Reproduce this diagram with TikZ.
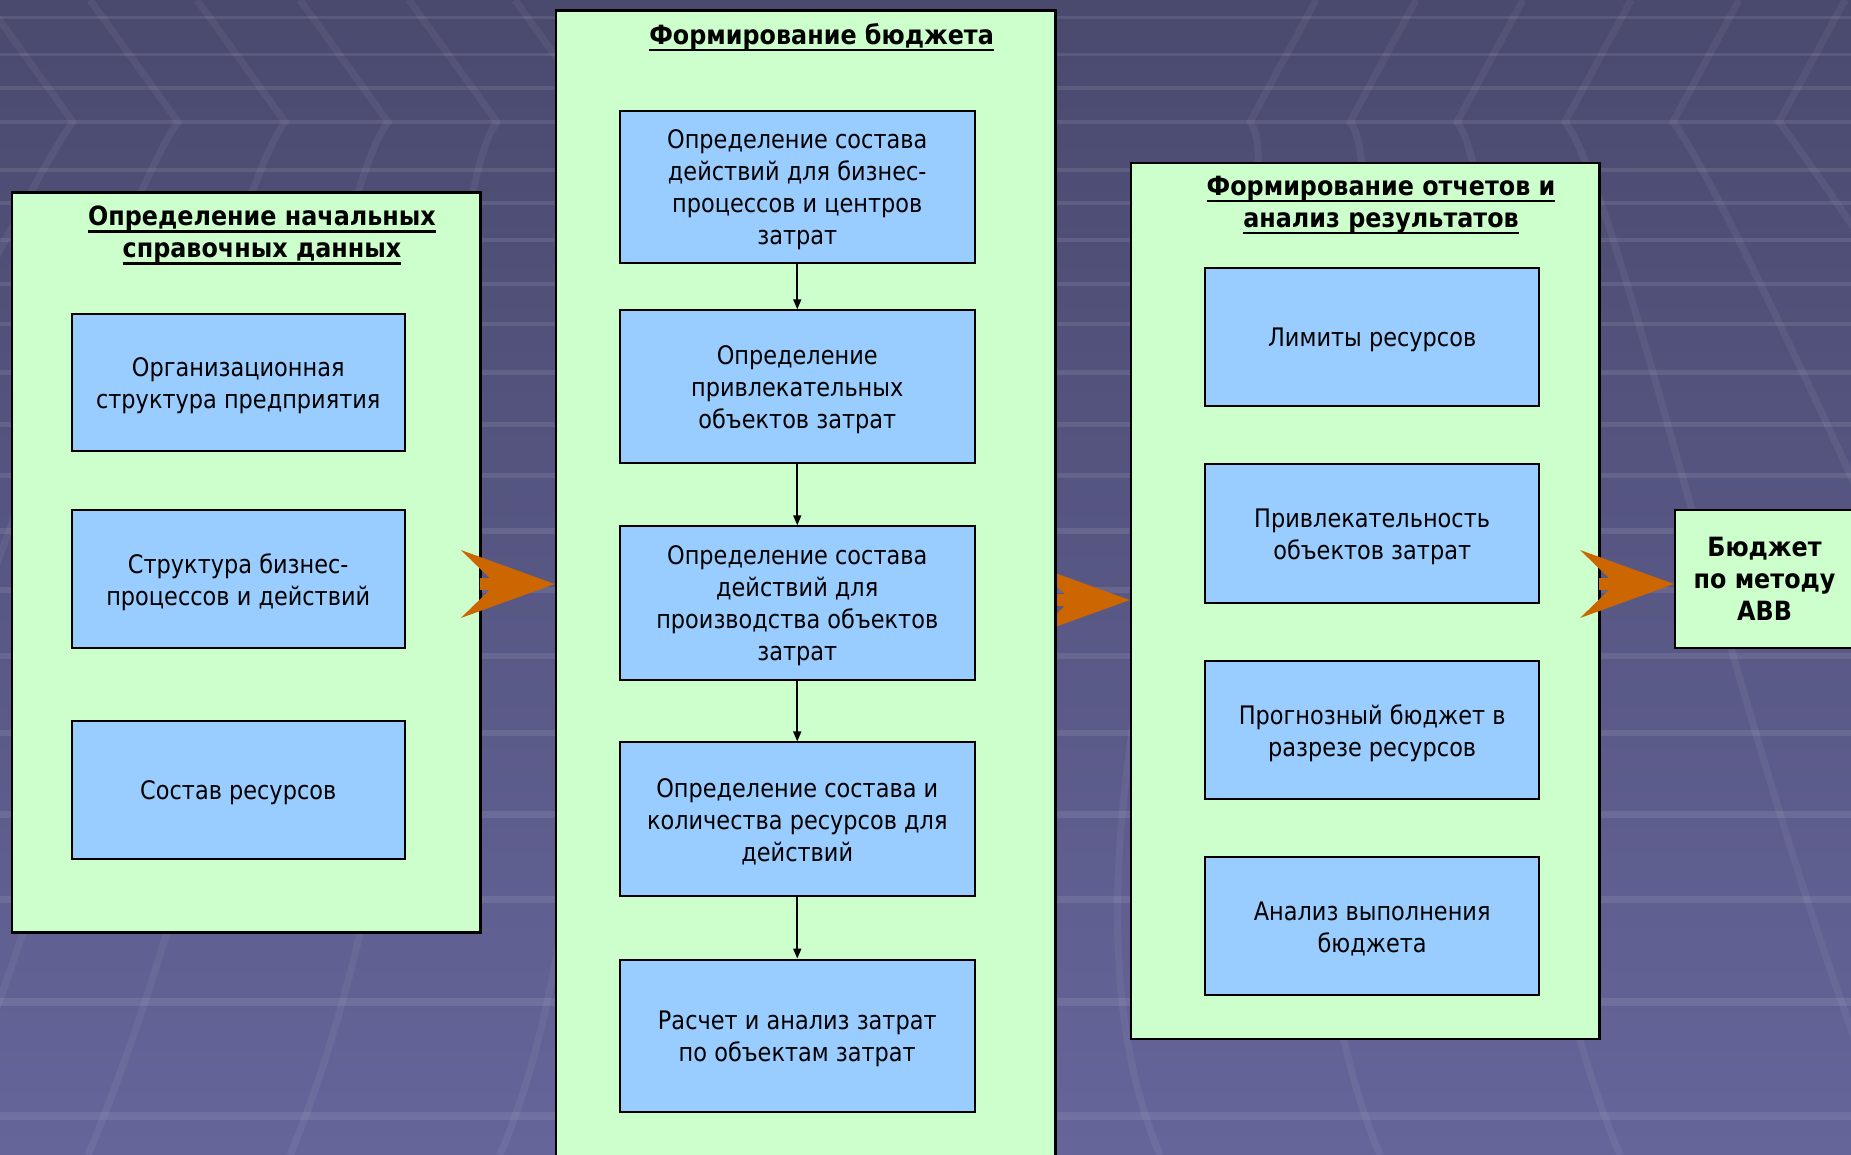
\documentclass[tikz,border=0pt]{standalone}
\usepackage{fontspec}
\setmainfont{DejaVu Sans}[FakeStretch=0.88, BoldFeatures={FakeStretch=0.9}]
\newcommand\myul[1]{\setbox0\hbox{#1}\rlap{\rule[-7pt]{\wd0}{2.4pt}}\box0}
\usetikzlibrary{calc,arrows.meta}
\definecolor{bgtop}{HTML}{4A496E}
\definecolor{bgbot}{HTML}{65659A}
\definecolor{panelg}{HTML}{CCFFCC}
\definecolor{boxb}{HTML}{99CCFF}
\definecolor{dartc}{HTML}{CC6600}
\tikzset{
  panel/.style={draw=black, line width=2.5pt, fill=panelg, anchor=north west, inner sep=0pt},
  box/.style={draw=black, line width=2pt, fill=boxb, anchor=north west, inner sep=0pt},
  btxt/.style={align=center, inner sep=0pt, font=\fontsize{25.5}{32}\selectfont},
  ttl/.style={align=center, font=\bfseries\fontsize{26.5}{32}\selectfont, inner sep=0pt},
  bgline/.style={white, opacity=0.055},
  link/.style={line width=1.6pt, -{Triangle[length=10pt,width=8pt]}},
}
\newcommand\dartshape{%
  (-94,-34) -- (0,0) -- (-94,34) -- (-65.2,6) -- (-75,6) -- (-75,-6) -- (-65.2,-6) -- cycle}
\begin{document}
\begin{tikzpicture}[x=1pt,y=-1pt]
\useasboundingbox (0,0) rectangle (1851,1155);
\clip (0,0) rectangle (1851,1155);
% background
\fill[top color=bgtop, bottom color=bgbot] (0,0) rectangle (1851,1155);
\foreach \yy/\w in {18/3,55/3,88/3.5,122/3.5,170/4,203/4,240/4,284/4.5,324/4.5,372/5,424/5,475/5,531/5.5,590/6,656/6,733/6.5,814/7,899/7,1002/8,1116/8}
  \draw[white, opacity=0.09, line width=\w pt] (0,\yy) -- (1851,\yy);
\foreach \a/\b in {73/-420,178/-230,285/-60,388/88,497/290,603/500}
  \draw[bgline, line width=7pt] ({\a-88},0) -- (\a,122) .. controls ({\a-60},200) and ({\b+150},800) .. (\b,1155);
\foreach \a/\b in {1250/1160,1350/1380,1457/1620,1565/1900,1673/2150,1779/2400}
  \draw[bgline, line width=7pt] ({\a+66},0) -- (\a,122) .. controls ({\a+60},200) and ({\b-150},800) .. (\b,1155);
% panels
\node[panel, minimum width=468.7, minimum height=740.2] (lp) at (10.6,191.2) {};
\node[panel, minimum width=468.6, minimum height=876] (rp) at (1129.8,161.7) {};
\coordinate (ya) at (0,584);
\coordinate (yb) at (0,600);
\fill[dartc, shift={(rp.west |- yb)}] \dartshape;
\node[panel, minimum width=499.4, minimum height=1200] (mp) at (554.8,9.4) {};
% titles
\node[ttl] (lt) at (262,235.5) {\myul{Определение начальных}\\\myul{справочных данных}};
\node[ttl] (mt) at (821.6,37.5) {\myul{Формирование бюджета}};
\node[ttl] (rt) at (1381,205) {\myul{Формирование отчетов и}\\\myul{анализ результатов}};
% left boxes
\node[box, minimum width=332.9, minimum height=137] (l1) at (70.8,312.8) {};
\node[box, minimum width=332.9, minimum height=138] (l2) at (70.8,508.8) {};
\node[box, minimum width=332.9, minimum height=138] (l3) at (70.8,720.1) {};
\node[btxt] (l1t) at ([yshift=-3pt]l1.center) {Организационная\\структура предприятия};
\node[btxt] (l2t) at ([yshift=-3pt]l2.center) {Структура бизнес-\\процессов и действий};
\node[btxt] (l3t) at ([yshift=-3pt]l3.center) {Состав ресурсов};
% middle boxes
\node[box, minimum width=355.3, minimum height=152.3] (m1) at (618.6,109.8) {};
\node[box, minimum width=355.3, minimum height=152.3] (m2) at (618.6,309.3) {};
\node[box, minimum width=355.3, minimum height=153.5] (m3) at (618.6,525.3) {};
\node[box, minimum width=355.3, minimum height=153.4] (m4) at (618.6,741.4) {};
\node[box, minimum width=355.3, minimum height=152.3] (m5) at (618.6,958.6) {};
\node[btxt] (m1t) at ([yshift=-3pt]m1.center) {Определение состава\\действий для бизнес-\\процессов и центров\\затрат};
\node[btxt] (m2t) at ([yshift=-3pt]m2.center) {Определение\\привлекательных\\объектов затрат};
\node[btxt] (m3t) at ([yshift=-3pt]m3.center) {Определение состава\\действий для\\производства объектов\\затрат};
\node[btxt] (m4t) at ([yshift=-3pt]m4.center) {Определение состава и\\количества ресурсов для\\действий};
\node[btxt] (m5t) at ([yshift=-3pt]m5.center) {Расчет и анализ затрат\\по объектам затрат};
% right boxes
\node[box, minimum width=334.1, minimum height=138.1] (r1) at (1204.1,266.8) {};
\node[box, minimum width=334.1, minimum height=139.3] (r2) at (1204.1,462.8) {};
\node[box, minimum width=334.1, minimum height=138.1] (r3) at (1204.1,659.9) {};
\node[box, minimum width=334.1, minimum height=138.1] (r4) at (1204.1,855.9) {};
\node[btxt] (r1t) at ([yshift=-3pt]r1.center) {Лимиты ресурсов};
\node[btxt] (r2t) at ([yshift=-3pt]r2.center) {Привлекательность\\объектов затрат};
\node[btxt] (r3t) at ([yshift=-3pt]r3.center) {Прогнозный бюджет в\\разрезе ресурсов};
\node[btxt] (r4t) at ([yshift=-3pt]r4.center) {Анализ выполнения\\бюджета};
% final box
\node[panel, line width=2pt, minimum width=179, minimum height=138.1, align=center,
  font=\bfseries\fontsize{26.5}{32}\selectfont] (fb) at (1674,508.8) {Бюджет\\по методу\\ABB};
% links
\draw[link] (m1) -- (m2);
\draw[link] (m2) -- (m3);
\draw[link] (m3) -- (m4);
\draw[link] (m4) -- (m5);
% darts
\fill[dartc, shift={(mp.west |- ya)}] \dartshape;
\fill[dartc, shift={(fb.west |- ya)}] \dartshape;
\end{tikzpicture}
\end{document}
